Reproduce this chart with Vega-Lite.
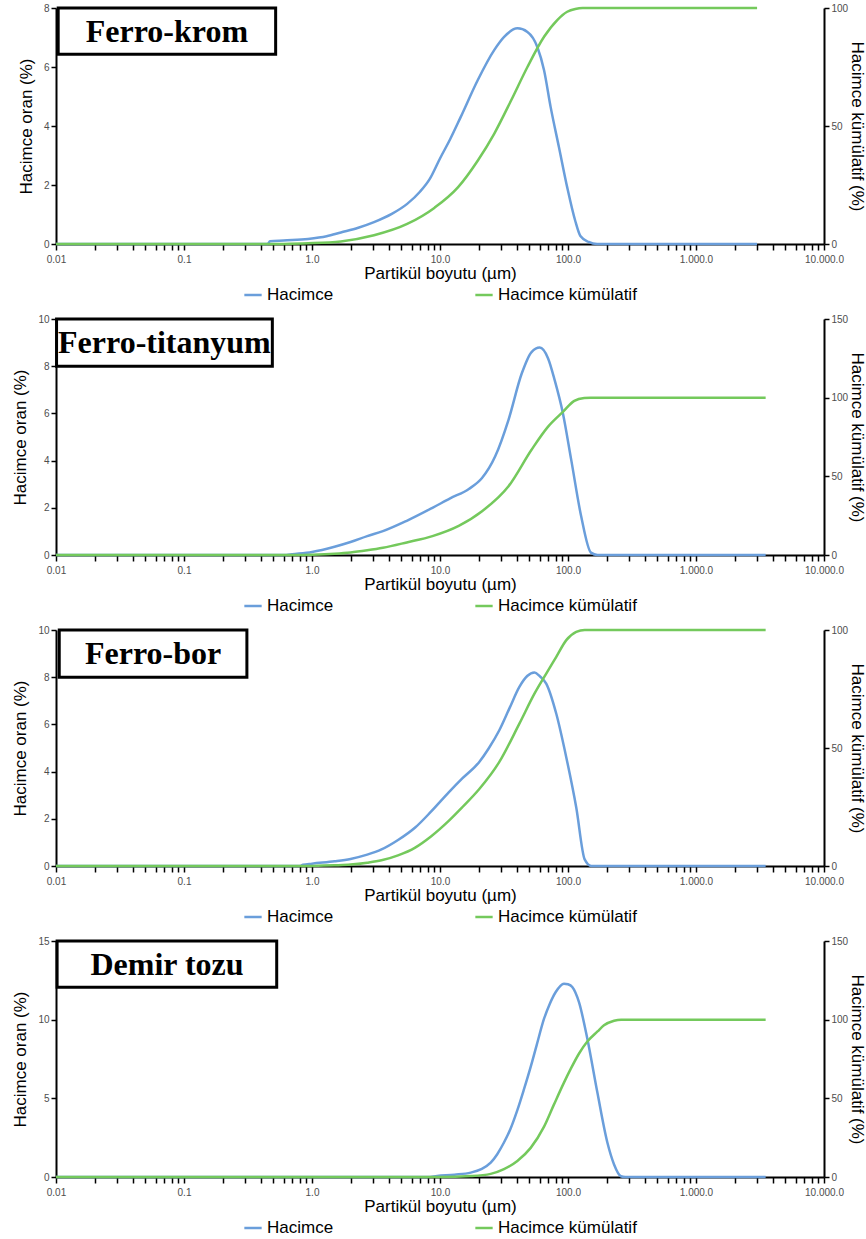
{
  "$schema": "https://vega.github.io/schema/vega-lite/v6.json",
  "background": "white",
  "padding": {"left": 11, "top": 3, "right": 0, "bottom": 2},
  "spacing": 11,
  "datasets": {
    "fk": [
      {"boyut":0.01,"seri":"Hacimce","deger":0},{"boyut":0.1,"seri":"Hacimce","deger":0},{"boyut":0.45,"seri":"Hacimce","deger":0},{"boyut":0.47,"seri":"Hacimce","deger":0.09},{"boyut":0.6,"seri":"Hacimce","deger":0.12},{"boyut":0.93,"seri":"Hacimce","deger":0.17},{"boyut":1.3,"seri":"Hacimce","deger":0.26},{"boyut":1.68,"seri":"Hacimce","deger":0.39},{"boyut":2.3,"seri":"Hacimce","deger":0.55},{"boyut":3.05,"seri":"Hacimce","deger":0.74},{"boyut":4.2,"seri":"Hacimce","deger":1.02},{"boyut":5.54,"seri":"Hacimce","deger":1.36},{"boyut":7.0,"seri":"Hacimce","deger":1.78},{"boyut":8.3,"seri":"Hacimce","deger":2.2},{"boyut":10.0,"seri":"Hacimce","deger":2.9},{"boyut":12,"seri":"Hacimce","deger":3.55},{"boyut":14.5,"seri":"Hacimce","deger":4.3},{"boyut":19.7,"seri":"Hacimce","deger":5.55},{"boyut":26.5,"seri":"Hacimce","deger":6.57},{"boyut":31.7,"seri":"Hacimce","deger":7.02},{"boyut":40.3,"seri":"Hacimce","deger":7.31},{"boyut":48.2,"seri":"Hacimce","deger":7.19},{"boyut":57.6,"seri":"Hacimce","deger":6.68},{"boyut":65,"seri":"Hacimce","deger":5.89},{"boyut":73.2,"seri":"Hacimce","deger":4.64},{"boyut":85,"seri":"Hacimce","deger":3.28},{"boyut":98.6,"seri":"Hacimce","deger":1.92},{"boyut":114,"seri":"Hacimce","deger":0.78},{"boyut":125,"seri":"Hacimce","deger":0.27},{"boyut":145,"seri":"Hacimce","deger":0.07},{"boyut":169,"seri":"Hacimce","deger":0},{"boyut":3000,"seri":"Hacimce","deger":0},
      {"boyut":0.01,"seri":"Hacimce kümülatif","deger":0},{"boyut":0.47,"seri":"Hacimce kümülatif","deger":0},{"boyut":0.6,"seri":"Hacimce kümülatif","deger":0.05},{"boyut":0.93,"seri":"Hacimce kümülatif","deger":0.3},{"boyut":1.68,"seri":"Hacimce kümülatif","deger":1.1},{"boyut":3.05,"seri":"Hacimce kümülatif","deger":3.7},{"boyut":5.54,"seri":"Hacimce kümülatif","deger":8.5},{"boyut":9.08,"seri":"Hacimce kümülatif","deger":15.4},{"boyut":13.8,"seri":"Hacimce kümülatif","deger":24},{"boyut":19.7,"seri":"Hacimce kümülatif","deger":35.3},{"boyut":26.5,"seri":"Hacimce kümülatif","deger":46.7},{"boyut":36,"seri":"Hacimce kümülatif","deger":60.9},{"boyut":48.2,"seri":"Hacimce kümülatif","deger":75},{"boyut":65,"seri":"Hacimce kümülatif","deger":87.8},{"boyut":82.4,"seri":"Hacimce kümülatif","deger":94.9},{"boyut":98.6,"seri":"Hacimce kümülatif","deger":98.4},{"boyut":114,"seri":"Hacimce kümülatif","deger":99.6},{"boyut":130,"seri":"Hacimce kümülatif","deger":100},{"boyut":3000,"seri":"Hacimce kümülatif","deger":100}
    ],
    "ft": [
      {"boyut":0.01,"seri":"Hacimce","deger":0},{"boyut":0.63,"seri":"Hacimce","deger":0},{"boyut":0.7,"seri":"Hacimce","deger":0.03},{"boyut":1.0,"seri":"Hacimce","deger":0.13},{"boyut":1.5,"seri":"Hacimce","deger":0.35},{"boyut":2.0,"seri":"Hacimce","deger":0.55},{"boyut":2.7,"seri":"Hacimce","deger":0.8},{"boyut":3.58,"seri":"Hacimce","deger":1.01},{"boyut":5.5,"seri":"Hacimce","deger":1.45},{"boyut":8.73,"seri":"Hacimce","deger":2.0},{"boyut":12,"seri":"Hacimce","deger":2.4},{"boyut":16.8,"seri":"Hacimce","deger":2.8},{"boyut":21.3,"seri":"Hacimce","deger":3.26},{"boyut":27,"seri":"Hacimce","deger":4.18},{"boyut":34.3,"seri":"Hacimce","deger":5.73},{"boyut":43.5,"seri":"Hacimce","deger":7.69},{"boyut":51.9,"seri":"Hacimce","deger":8.6},{"boyut":60.2,"seri":"Hacimce","deger":8.79},{"boyut":69.9,"seri":"Hacimce","deger":8.33},{"boyut":78.7,"seri":"Hacimce","deger":7.41},{"boyut":91.3,"seri":"Hacimce","deger":6.0},{"boyut":105.9,"seri":"Hacimce","deger":4.04},{"boyut":126.6,"seri":"Hacimce","deger":1.65},{"boyut":151,"seri":"Hacimce","deger":0.1},{"boyut":170,"seri":"Hacimce","deger":0},{"boyut":3500,"seri":"Hacimce","deger":0},
      {"boyut":0.01,"seri":"Hacimce kümülatif","deger":0},{"boyut":0.7,"seri":"Hacimce kümülatif","deger":0},{"boyut":1.0,"seri":"Hacimce kümülatif","deger":0.2},{"boyut":1.5,"seri":"Hacimce kümülatif","deger":0.8},{"boyut":2.0,"seri":"Hacimce kümülatif","deger":1.6},{"boyut":2.7,"seri":"Hacimce kümülatif","deger":3.0},{"boyut":3.58,"seri":"Hacimce kümülatif","deger":4.6},{"boyut":5.5,"seri":"Hacimce kümülatif","deger":8},{"boyut":8.73,"seri":"Hacimce kümülatif","deger":12},{"boyut":14,"seri":"Hacimce kümülatif","deger":18.5},{"boyut":21.3,"seri":"Hacimce kümülatif","deger":27.8},{"boyut":34.3,"seri":"Hacimce kümülatif","deger":43.7},{"boyut":51.9,"seri":"Hacimce kümülatif","deger":66.9},{"boyut":69.9,"seri":"Hacimce kümülatif","deger":81.6},{"boyut":91.3,"seri":"Hacimce kümülatif","deger":91},{"boyut":112,"seri":"Hacimce kümülatif","deger":98},{"boyut":134,"seri":"Hacimce kümülatif","deger":99.8},{"boyut":150,"seri":"Hacimce kümülatif","deger":100},{"boyut":3500,"seri":"Hacimce kümülatif","deger":100}
    ],
    "fb": [
      {"boyut":0.01,"seri":"Hacimce","deger":0},{"boyut":0.8,"seri":"Hacimce","deger":0},{"boyut":0.85,"seri":"Hacimce","deger":0.05},{"boyut":1.0,"seri":"Hacimce","deger":0.1},{"boyut":1.5,"seri":"Hacimce","deger":0.2},{"boyut":2.0,"seri":"Hacimce","deger":0.3},{"boyut":2.7,"seri":"Hacimce","deger":0.48},{"boyut":3.49,"seri":"Hacimce","deger":0.7},{"boyut":4.7,"seri":"Hacimce","deger":1.1},{"boyut":6.4,"seri":"Hacimce","deger":1.63},{"boyut":8.5,"seri":"Hacimce","deger":2.3},{"boyut":11.7,"seri":"Hacimce","deger":3.12},{"boyut":15,"seri":"Hacimce","deger":3.72},{"boyut":20.2,"seri":"Hacimce","deger":4.4},{"boyut":24,"seri":"Hacimce","deger":4.98},{"boyut":29,"seri":"Hacimce","deger":5.74},{"boyut":35,"seri":"Hacimce","deger":6.7},{"boyut":41.7,"seri":"Hacimce","deger":7.59},{"boyut":48,"seri":"Hacimce","deger":8.05},{"boyut":54.7,"seri":"Hacimce","deger":8.2},{"boyut":60,"seri":"Hacimce","deger":8.05},{"boyut":67.6,"seri":"Hacimce","deger":7.73},{"boyut":81,"seri":"Hacimce","deger":6.45},{"boyut":97,"seri":"Hacimce","deger":4.6},{"boyut":116,"seri":"Hacimce","deger":2.48},{"boyut":135,"seri":"Hacimce","deger":0.28},{"boyut":152,"seri":"Hacimce","deger":0},{"boyut":3500,"seri":"Hacimce","deger":0},
      {"boyut":0.01,"seri":"Hacimce kümülatif","deger":0},{"boyut":0.85,"seri":"Hacimce kümülatif","deger":0},{"boyut":1.0,"seri":"Hacimce kümülatif","deger":0.05},{"boyut":1.5,"seri":"Hacimce kümülatif","deger":0.3},{"boyut":2.0,"seri":"Hacimce kümülatif","deger":0.6},{"boyut":2.7,"seri":"Hacimce kümülatif","deger":1.4},{"boyut":3.49,"seri":"Hacimce kümülatif","deger":2.4},{"boyut":4.7,"seri":"Hacimce kümülatif","deger":4.5},{"boyut":6.4,"seri":"Hacimce kümülatif","deger":7.8},{"boyut":8.5,"seri":"Hacimce kümülatif","deger":12.5},{"boyut":11.7,"seri":"Hacimce kümülatif","deger":19.1},{"boyut":15,"seri":"Hacimce kümülatif","deger":25},{"boyut":20.2,"seri":"Hacimce kümülatif","deger":32.5},{"boyut":29,"seri":"Hacimce kümülatif","deger":44},{"boyut":41.7,"seri":"Hacimce kümülatif","deger":60.3},{"boyut":54.7,"seri":"Hacimce kümülatif","deger":73},{"boyut":67.6,"seri":"Hacimce kümülatif","deger":81.5},{"boyut":81,"seri":"Hacimce kümülatif","deger":88.6},{"boyut":97,"seri":"Hacimce kümülatif","deger":95.7},{"boyut":116,"seri":"Hacimce kümülatif","deger":99.2},{"boyut":135,"seri":"Hacimce kümülatif","deger":100},{"boyut":3500,"seri":"Hacimce kümülatif","deger":100}
    ],
    "dt": [
      {"boyut":0.01,"seri":"Hacimce","deger":0},{"boyut":8,"seri":"Hacimce","deger":0},{"boyut":9.5,"seri":"Hacimce","deger":0.07},{"boyut":13,"seri":"Hacimce","deger":0.15},{"boyut":17.4,"seri":"Hacimce","deger":0.28},{"boyut":21,"seri":"Hacimce","deger":0.5},{"boyut":24.9,"seri":"Hacimce","deger":0.91},{"boyut":28,"seri":"Hacimce","deger":1.45},{"boyut":31.6,"seri":"Hacimce","deger":2.19},{"boyut":35.5,"seri":"Hacimce","deger":3.05},{"boyut":40.2,"seri":"Hacimce","deger":4.25},{"boyut":45,"seri":"Hacimce","deger":5.5},{"boyut":51.1,"seri":"Hacimce","deger":7.0},{"boyut":57,"seri":"Hacimce","deger":8.4},{"boyut":65,"seri":"Hacimce","deger":10.06},{"boyut":72,"seri":"Hacimce","deger":11.0},{"boyut":80.2,"seri":"Hacimce","deger":11.76},{"boyut":93,"seri":"Hacimce","deger":12.29},{"boyut":100,"seri":"Hacimce","deger":12.25},{"boyut":108,"seri":"Hacimce","deger":12.08},{"boyut":122,"seri":"Hacimce","deger":11.1},{"boyut":141.6,"seri":"Hacimce","deger":8.78},{"boyut":169.5,"seri":"Hacimce","deger":5.38},{"boyut":203,"seri":"Hacimce","deger":2.19},{"boyut":229,"seri":"Hacimce","deger":0.8},{"boyut":259,"seri":"Hacimce","deger":0.05},{"boyut":280,"seri":"Hacimce","deger":0},{"boyut":3500,"seri":"Hacimce","deger":0},
      {"boyut":0.01,"seri":"Hacimce kümülatif","deger":0},{"boyut":10,"seri":"Hacimce kümülatif","deger":0},{"boyut":17.4,"seri":"Hacimce kümülatif","deger":0.6},{"boyut":24.9,"seri":"Hacimce kümülatif","deger":2},{"boyut":31.6,"seri":"Hacimce kümülatif","deger":5.0},{"boyut":40.2,"seri":"Hacimce kümülatif","deger":10.2},{"boyut":51.1,"seri":"Hacimce kümülatif","deger":18.5},{"boyut":65,"seri":"Hacimce kümülatif","deger":32},{"boyut":77.6,"seri":"Hacimce kümülatif","deger":46},{"boyut":93,"seri":"Hacimce kümülatif","deger":60},{"boyut":105,"seri":"Hacimce kümülatif","deger":68.7},{"boyut":122,"seri":"Hacimce kümülatif","deger":78.5},{"boyut":141.6,"seri":"Hacimce kümülatif","deger":86.1},{"boyut":170,"seri":"Hacimce kümülatif","deger":92.5},{"boyut":191,"seri":"Hacimce kümülatif","deger":96.4},{"boyut":229,"seri":"Hacimce kümülatif","deger":99.3},{"boyut":260,"seri":"Hacimce kümülatif","deger":100},{"boyut":3500,"seri":"Hacimce kümülatif","deger":100}
    ]
  },
  "vconcat": [
    {
      "data": {"name": "fk"},
      "width": 768, "height": 236,
      "layer": [
        {"layer": [
          {"transform": [{"filter": "datum.seri == 'Hacimce'"}],
           "mark": {"type": "line"},
           "encoding": {
             "x": {"field": "boyut", "type": "quantitative", "scale": {"type": "log", "domain": [0.01, 10000], "nice": false}, "axis": {"title": "Partikül boyutu (µm)", "values": [0.01,0.02,0.03,0.04,0.05,0.06,0.07,0.08,0.09,0.1,0.2,0.3,0.4,0.5,0.6,0.7,0.8,0.9,1,2,3,4,5,6,7,8,9,10,20,30,40,50,60,70,80,90,100,200,300,400,500,600,700,800,900,1000,2000,3000,4000,5000,6000,7000,8000,9000,10000], "labelExpr": "datum.value == 0.01 ? '0.01' : datum.value == 0.1 ? '0.1' : datum.value == 1 ? '1.0' : datum.value == 10 ? '10.0' : datum.value == 100 ? '100.0' : datum.value == 1000 ? '1.000.0' : datum.value == 10000 ? '10.000.0' : ''"}},
             "y": {"field": "deger", "type": "quantitative", "scale": {"domain": [0, 8], "nice": false}, "axis": {"title": "Hacimce oran (%)", "values": [0, 2, 4, 6, 8]}},
             "color": {"field": "seri", "type": "nominal", "scale": {"domain": ["Hacimce", "Hacimce kümülatif"], "range": ["#6A9EDB", "#74C95C"]}, "legend": {"title": null, "orient": "bottom", "direction": "horizontal", "symbolType": "stroke", "symbolStrokeWidth": 3, "symbolSize": 300, "labelFontSize": 17, "labelFont": "Liberation Sans", "columnPadding": 136, "offset": 4, "labelLimit": 300}}
           }},
          {"data": {"values": [{}]},
           "mark": {"type": "rect", "fill": "white", "stroke": "black", "strokeWidth": 3},
           "encoding": {"x": {"datum": 0.0104}, "x2": {"datum": 0.52}, "y": {"datum": 6.43}, "y2": {"datum": 8}}},
          {"data": {"values": [{}]},
           "mark": {"type": "text", "font": "Liberation Serif", "fontWeight": "bold", "fontSize": 32, "align": "center", "baseline": "middle", "color": "black"},
           "encoding": {"x": {"datum": 0.0735}, "y": {"datum": 7.2}, "text": {"value": "Ferro-krom"}}}
        ]},
        {"transform": [{"filter": "datum.seri == 'Hacimce kümülatif'"}],
         "mark": {"type": "line"},
         "encoding": {
           "x": {"field": "boyut", "type": "quantitative", "scale": {"type": "log", "domain": [0.01, 10000], "nice": false}},
           "y": {"field": "deger", "type": "quantitative", "scale": {"domain": [0, 100], "nice": false}, "axis": {"title": "Hacimce kümülatif (%)", "orient": "right", "values": [0, 50, 100], "titlePadding": 0}},
           "color": {"field": "seri", "type": "nominal", "scale": {"domain": ["Hacimce", "Hacimce kümülatif"], "range": ["#6A9EDB", "#74C95C"]}}
         }}
      ],
      "resolve": {"scale": {"y": "independent"}}
    },
    {
      "data": {"name": "ft"},
      "width": 768, "height": 236,
      "layer": [
        {"layer": [
          {"transform": [{"filter": "datum.seri == 'Hacimce'"}],
           "mark": {"type": "line"},
           "encoding": {
             "x": {"field": "boyut", "type": "quantitative", "scale": {"type": "log", "domain": [0.01, 10000], "nice": false}, "axis": {"title": "Partikül boyutu (µm)", "values": [0.01,0.02,0.03,0.04,0.05,0.06,0.07,0.08,0.09,0.1,0.2,0.3,0.4,0.5,0.6,0.7,0.8,0.9,1,2,3,4,5,6,7,8,9,10,20,30,40,50,60,70,80,90,100,200,300,400,500,600,700,800,900,1000,2000,3000,4000,5000,6000,7000,8000,9000,10000], "labelExpr": "datum.value == 0.01 ? '0.01' : datum.value == 0.1 ? '0.1' : datum.value == 1 ? '1.0' : datum.value == 10 ? '10.0' : datum.value == 100 ? '100.0' : datum.value == 1000 ? '1.000.0' : datum.value == 10000 ? '10.000.0' : ''"}},
             "y": {"field": "deger", "type": "quantitative", "scale": {"domain": [0, 10], "nice": false}, "axis": {"title": "Hacimce oran (%)", "values": [0, 2, 4, 6, 8, 10]}},
             "color": {"field": "seri", "type": "nominal", "scale": {"domain": ["Hacimce", "Hacimce kümülatif"], "range": ["#6A9EDB", "#74C95C"]}, "legend": {"title": null, "orient": "bottom", "direction": "horizontal", "symbolType": "stroke", "symbolStrokeWidth": 3, "symbolSize": 300, "labelFontSize": 17, "labelFont": "Liberation Sans", "columnPadding": 136, "offset": 4, "labelLimit": 300}}
           }},
          {"data": {"values": [{}]},
           "mark": {"type": "rect", "fill": "white", "stroke": "black", "strokeWidth": 3},
           "encoding": {"x": {"datum": 0.0101}, "x2": {"datum": 0.49}, "y": {"datum": 8}, "y2": {"datum": 10}}},
          {"data": {"values": [{}]},
           "mark": {"type": "text", "font": "Liberation Serif", "fontWeight": "bold", "fontSize": 32, "align": "center", "baseline": "middle", "color": "black"},
           "encoding": {"x": {"datum": 0.0703}, "y": {"datum": 9}, "text": {"value": "Ferro-titanyum"}}}
        ]},
        {"transform": [{"filter": "datum.seri == 'Hacimce kümülatif'"}],
         "mark": {"type": "line"},
         "encoding": {
           "x": {"field": "boyut", "type": "quantitative", "scale": {"type": "log", "domain": [0.01, 10000], "nice": false}},
           "y": {"field": "deger", "type": "quantitative", "scale": {"domain": [0, 150], "nice": false}, "axis": {"title": "Hacimce kümülatif (%)", "orient": "right", "values": [0, 50, 100, 150], "titlePadding": 0}},
           "color": {"field": "seri", "type": "nominal", "scale": {"domain": ["Hacimce", "Hacimce kümülatif"], "range": ["#6A9EDB", "#74C95C"]}}
         }}
      ],
      "resolve": {"scale": {"y": "independent"}}
    },
    {
      "data": {"name": "fb"},
      "width": 768, "height": 236,
      "layer": [
        {"layer": [
          {"transform": [{"filter": "datum.seri == 'Hacimce'"}],
           "mark": {"type": "line"},
           "encoding": {
             "x": {"field": "boyut", "type": "quantitative", "scale": {"type": "log", "domain": [0.01, 10000], "nice": false}, "axis": {"title": "Partikül boyutu (µm)", "values": [0.01,0.02,0.03,0.04,0.05,0.06,0.07,0.08,0.09,0.1,0.2,0.3,0.4,0.5,0.6,0.7,0.8,0.9,1,2,3,4,5,6,7,8,9,10,20,30,40,50,60,70,80,90,100,200,300,400,500,600,700,800,900,1000,2000,3000,4000,5000,6000,7000,8000,9000,10000], "labelExpr": "datum.value == 0.01 ? '0.01' : datum.value == 0.1 ? '0.1' : datum.value == 1 ? '1.0' : datum.value == 10 ? '10.0' : datum.value == 100 ? '100.0' : datum.value == 1000 ? '1.000.0' : datum.value == 10000 ? '10.000.0' : ''"}},
             "y": {"field": "deger", "type": "quantitative", "scale": {"domain": [0, 10], "nice": false}, "axis": {"title": "Hacimce oran (%)", "values": [0, 2, 4, 6, 8, 10]}},
             "color": {"field": "seri", "type": "nominal", "scale": {"domain": ["Hacimce", "Hacimce kümülatif"], "range": ["#6A9EDB", "#74C95C"]}, "legend": {"title": null, "orient": "bottom", "direction": "horizontal", "symbolType": "stroke", "symbolStrokeWidth": 3, "symbolSize": 300, "labelFontSize": 17, "labelFont": "Liberation Sans", "columnPadding": 136, "offset": 4, "labelLimit": 300}}
           }},
          {"data": {"values": [{}]},
           "mark": {"type": "rect", "fill": "white", "stroke": "black", "strokeWidth": 3},
           "encoding": {"x": {"datum": 0.0106}, "x2": {"datum": 0.31}, "y": {"datum": 8}, "y2": {"datum": 10}}},
          {"data": {"values": [{}]},
           "mark": {"type": "text", "font": "Liberation Serif", "fontWeight": "bold", "fontSize": 32, "align": "center", "baseline": "middle", "color": "black"},
           "encoding": {"x": {"datum": 0.0573}, "y": {"datum": 9}, "text": {"value": "Ferro-bor"}}}
        ]},
        {"transform": [{"filter": "datum.seri == 'Hacimce kümülatif'"}],
         "mark": {"type": "line"},
         "encoding": {
           "x": {"field": "boyut", "type": "quantitative", "scale": {"type": "log", "domain": [0.01, 10000], "nice": false}},
           "y": {"field": "deger", "type": "quantitative", "scale": {"domain": [0, 100], "nice": false}, "axis": {"title": "Hacimce kümülatif (%)", "orient": "right", "values": [0, 50, 100], "titlePadding": 0}},
           "color": {"field": "seri", "type": "nominal", "scale": {"domain": ["Hacimce", "Hacimce kümülatif"], "range": ["#6A9EDB", "#74C95C"]}}
         }}
      ],
      "resolve": {"scale": {"y": "independent"}}
    },
    {
      "data": {"name": "dt"},
      "width": 768, "height": 236,
      "layer": [
        {"layer": [
          {"transform": [{"filter": "datum.seri == 'Hacimce'"}],
           "mark": {"type": "line"},
           "encoding": {
             "x": {"field": "boyut", "type": "quantitative", "scale": {"type": "log", "domain": [0.01, 10000], "nice": false}, "axis": {"title": "Partikül boyutu (µm)", "values": [0.01,0.02,0.03,0.04,0.05,0.06,0.07,0.08,0.09,0.1,0.2,0.3,0.4,0.5,0.6,0.7,0.8,0.9,1,2,3,4,5,6,7,8,9,10,20,30,40,50,60,70,80,90,100,200,300,400,500,600,700,800,900,1000,2000,3000,4000,5000,6000,7000,8000,9000,10000], "labelExpr": "datum.value == 0.01 ? '0.01' : datum.value == 0.1 ? '0.1' : datum.value == 1 ? '1.0' : datum.value == 10 ? '10.0' : datum.value == 100 ? '100.0' : datum.value == 1000 ? '1.000.0' : datum.value == 10000 ? '10.000.0' : ''"}},
             "y": {"field": "deger", "type": "quantitative", "scale": {"domain": [0, 15], "nice": false}, "axis": {"title": "Hacimce oran (%)", "values": [0, 5, 10, 15]}},
             "color": {"field": "seri", "type": "nominal", "scale": {"domain": ["Hacimce", "Hacimce kümülatif"], "range": ["#6A9EDB", "#74C95C"]}, "legend": {"title": null, "orient": "bottom", "direction": "horizontal", "symbolType": "stroke", "symbolStrokeWidth": 3, "symbolSize": 300, "labelFontSize": 17, "labelFont": "Liberation Sans", "columnPadding": 136, "offset": 4, "labelLimit": 300}}
           }},
          {"data": {"values": [{}]},
           "mark": {"type": "rect", "fill": "white", "stroke": "black", "strokeWidth": 3},
           "encoding": {"x": {"datum": 0.0102}, "x2": {"datum": 0.53}, "y": {"datum": 12.06}, "y2": {"datum": 15}}},
          {"data": {"values": [{}]},
           "mark": {"type": "text", "font": "Liberation Serif", "fontWeight": "bold", "fontSize": 32, "align": "center", "baseline": "middle", "color": "black"},
           "encoding": {"x": {"datum": 0.0737}, "y": {"datum": 13.5}, "text": {"value": "Demir tozu"}}}
        ]},
        {"transform": [{"filter": "datum.seri == 'Hacimce kümülatif'"}],
         "mark": {"type": "line"},
         "encoding": {
           "x": {"field": "boyut", "type": "quantitative", "scale": {"type": "log", "domain": [0.01, 10000], "nice": false}},
           "y": {"field": "deger", "type": "quantitative", "scale": {"domain": [0, 150], "nice": false}, "axis": {"title": "Hacimce kümülatif (%)", "orient": "right", "values": [0, 50, 100, 150], "titlePadding": 0}},
           "color": {"field": "seri", "type": "nominal", "scale": {"domain": ["Hacimce", "Hacimce kümülatif"], "range": ["#6A9EDB", "#74C95C"]}}
         }}
      ],
      "resolve": {"scale": {"y": "independent"}}
    }
  ],
  "resolve": {"scale": {"y": "independent", "color": "independent"}, "legend": {"color": "independent"}},
  "config": {
    "view": {"stroke": null},
    "line": {"strokeWidth": 2.5, "interpolate": "monotone"},
    "legend": {"layout": {"bottom": {"anchor": "middle"}}},
    "axis": {"grid": false, "domainColor": "black", "domainWidth": 2, "tickColor": "black", "tickWidth": 1.5, "labelFont": "Liberation Sans Narrow, Liberation Sans, sans-serif", "labelFontSize": 10, "labelColor": "#4d4d4d", "titleFont": "Liberation Sans", "titleFontSize": 17, "titleFontWeight": "normal", "titleColor": "black"},
    "axisX": {"tickSize": 6, "labelPadding": 4, "titlePadding": 1, "labelFlush": false, "labelOverlap": false},
    "axisY": {"tickSize": 5, "labelPadding": 2, "titlePadding": 8}
  }
}
